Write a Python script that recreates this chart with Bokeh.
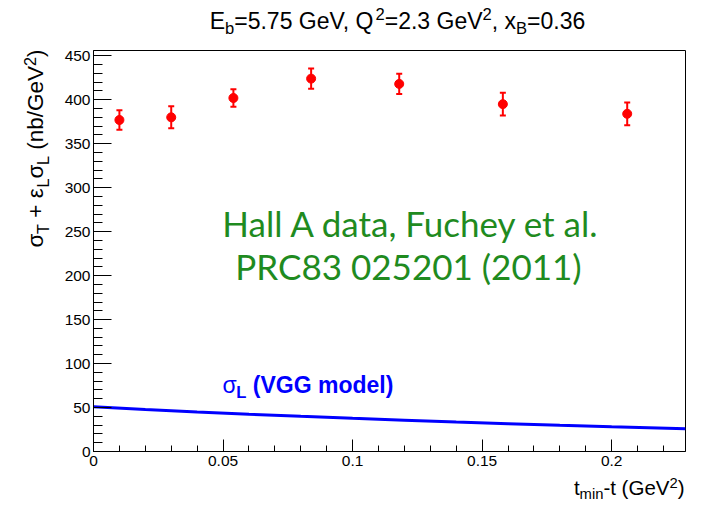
import math
from bokeh.plotting import figure
from bokeh.layouts import row, column
from bokeh.models import (Range1d, SingleIntervalTicker, CustomJSTickFormatter,
                          Label, ColumnDataSource)
from bokeh.embed import file_html
from bokeh.resources import INLINE

# ---------------- data ----------------
t_data = [0.010, 0.030, 0.054, 0.084, 0.118, 0.158, 0.206]
sigma_data = [377, 380, 402, 424, 418, 395, 384]
sigma_err = [11, 12.5, 10, 11.5, 11.5, 13, 13]

t_model = [0.0, 0.02, 0.04, 0.06, 0.08, 0.10, 0.12, 0.14, 0.16, 0.18, 0.20, 0.2285]
sigmaL_model = [50.8, 47.8, 45.0, 42.4, 40.0, 37.7, 35.6, 33.5, 31.6, 29.8, 28.1, 25.8]

x_range = (0.0, 0.2285)
y_range = (0.0, 456.0)

title_pieces = [("E", "n"), ("b", "sub"), ("=5.75 GeV, Q", "n"), ("2", "sup"),
                ("=2.3 GeV", "n"), ("2", "sup"), (", x", "n"), ("B", "sub"), ("=0.36", "n")]
ylabel_pieces = [("σ", "n"), ("T", "sub"), ("\u00a0+\u00a0ε", "n"), ("L", "sub"), ("σ", "n"),
                 ("L", "sub"), ("\u00a0(nb/GeV", "n"), ("2", "sup"), (")", "n")]
xlabel_pieces = [("t", "n"), ("min", "sub"), ("-t (GeV", "n"), ("2", "sup"), (")", "n")]
model_pieces = [("σ", "n"), ("L", "sub"), ("\u00a0(VGG model)", "n")]
note_lines = ["Hall A data, Fuchey et al.", "PRC83 025201 (2011)"]

# ---------------- layout (page pixels) ----------------
W, H = 702, 505
LW = 56            # width of the left strip holding the y label
TOPH = 46          # height of the strip holding the title
MAIN_W = W - LW
BL, BR, BT, BB = 93 - LW, 17, 4, 22
MAIN_H = BT + 401 + BB
BOT_H = H - TOPH - MAIN_H
FONT = "Liberation Sans"
KBASE = {"Liberation Sans": 0.347, "Lato": 0.387}


def text_fig(w, h):
    f = figure(width=w, height=h, x_range=Range1d(0, 1), y_range=Range1d(0, 1),
               output_backend="svg", toolbar_location=None, title=None,
               x_axis_location=None, y_axis_location=None,
               min_border_left=0, min_border_right=0, min_border_top=0, min_border_bottom=0)
    f.outline_line_color = None
    f.xgrid.visible = False
    f.ygrid.visible = False
    f.background_fill_color = "white"
    f.border_fill_color = "white"
    return f


left_fig = text_fig(LW, H)
top_fig = text_fig(MAIN_W, TOPH)
bot_fig = text_fig(MAIN_W, BOT_H)

p = figure(width=MAIN_W, height=MAIN_H, x_range=Range1d(*x_range), y_range=Range1d(*y_range),
           output_backend="svg", toolbar_location=None, title=None,
           min_border_left=BL, min_border_right=BR, min_border_top=BT, min_border_bottom=BB)
p.background_fill_color = "white"
p.border_fill_color = "white"
p.outline_line_color = "black"
p.outline_line_width = 1
p.xgrid.visible = False
p.ygrid.visible = False

xa = p.xaxis[0]
ya = p.yaxis[0]
xa.ticker = SingleIntervalTicker(interval=0.05, num_minor_ticks=5)
ya.ticker = SingleIntervalTicker(interval=50, num_minor_ticks=5)
xa.formatter = CustomJSTickFormatter(code="return String(Math.round(tick*1000)/1000);")
for ax in (xa, ya):
    ax.axis_line_color = "black"
    ax.axis_line_width = 1
    ax.major_tick_line_color = "black"
    ax.minor_tick_line_color = "black"
    ax.major_tick_out = 0
    ax.minor_tick_out = 0
    ax.major_label_text_font = FONT
    ax.major_label_text_font_size = "15.5px"
    ax.major_label_text_color = "black"
xa.major_tick_in = 12
xa.minor_tick_in = 6
xa.major_label_standoff = 4
ya.major_tick_in = 18
ya.minor_tick_in = 9
ya.major_label_standoff = 3

# ---------------- glyphs ----------------
src = ColumnDataSource(dict(
    t=t_data, s=sigma_data,
    lo=[s - e for s, e in zip(sigma_data, sigma_err)],
    hi=[s + e for s, e in zip(sigma_data, sigma_err)]))
p.segment(x0="t", y0="lo", x1="t", y1="hi", source=src, line_color="red", line_width=2)
p.scatter(x="t", y="hi", marker="dash", size=6, line_color="red", line_width=2, source=src)
p.scatter(x="t", y="lo", marker="dash", size=6, line_color="red", line_width=2, source=src)
p.scatter(x="t", y="s", marker="circle", size=9, fill_color="red", line_color="red", source=src)

p.line(t_model, sigmaL_model, line_color="blue", line_width=3)

# ---------------- rich text helper ----------------
REG = {' ': 278, '\u00a0': 278, '(': 333, ')': 333, '+': 584, ',': 278, '-': 333, '.': 278,
       '/': 278, '=': 584, 'A': 667, 'B': 667, 'E': 667, 'G': 778, 'L': 556, 'Q': 778,
       'T': 611, 'V': 667, 'b': 556, 'd': 556, 'e': 556, 'i': 222, 'l': 222, 'm': 833,
       'n': 556, 'o': 556, 't': 278, 'x': 500, 'σ': 600, 'ε': 480}
BOLD = {' ': 278, '\u00a0': 278, '(': 333, ')': 333, 'V': 667, 'G': 778, 'm': 889,
        'o': 611, 'd': 611, 'e': 556, 'l': 278, 'L': 611, 'σ': 620}
SCR = 0.72


def tw(text, bold):
    tab = BOLD if bold else REG
    return sum(tab.get(c, 556) for c in text) / 1000.0


def rich(fig, origin, pieces, apx, apy, size, color="black", align="left",
         vertical=False, bold_main=False, sup=0.36):
    """Lay out text pieces (normal / sub / sup); apx, apy = page pixels of the baseline."""
    ox, oy = origin
    ws = []
    for text, kind in pieces:
        bold = bold_main and text != "σ"
        fs = size * SCR if kind != "n" else size
        ws.append(tw(text, bold) * fs)
    total = sum(ws)
    cum = {"left": 0.0, "right": -total, "center": -total / 2}[align]
    for (text, kind), w in zip(pieces, ws):
        bold = bold_main and text != "σ"
        fs = size * SCR if kind != "n" else size
        shift = {"n": 0.0, "sub": -0.24 * size, "sup": sup * size}[kind]
        corr = KBASE[FONT] * fs
        if not vertical:
            cx, cy, ang = apx + cum - ox, apy - shift - corr - oy, 0.0
        else:
            cx, cy, ang = apx - shift - corr - ox, apy - cum - oy, math.pi / 2
        fig.add_layout(Label(x=cx, y=cy, x_units="canvas", y_units="canvas", text=text,
                             text_font=FONT, text_font_size=f"{fs:.1f}px",
                             text_font_style="bold" if bold else "normal",
                             text_color=color, text_align="left",
                             text_baseline="alphabetic", angle=ang))
        cum += w


rich(top_fig, (LW, 0), title_pieces, 397, 28, 23, align="center")
rich(left_fig, (0, 0), ylabel_pieces, 43, 49, 22.5, align="right", vertical=True)
rich(bot_fig, (LW, TOPH + MAIN_H), xlabel_pieces, 684, 494, 20.5, align="right", sup=0.33)
rich(p, (LW, TOPH), model_pieces, 222, 392, 23, color="blue", bold_main=True)

GREEN = "#1f8b1f"
GS = 35
for line, (gx, gy) in zip(note_lines, [(411, 236), (408, 279)]):
    p.add_layout(Label(x=gx - LW, y=gy - TOPH - KBASE["Lato"] * GS, x_units="canvas",
                       y_units="canvas", text=line, text_font="Lato",
                       text_font_size=f"{GS}px", text_color=GREEN,
                       text_align="center", text_baseline="alphabetic"))

layout = row(left_fig, column(top_fig, p, bot_fig, spacing=0), spacing=0)
open("out.html", "w").write(file_html(layout, INLINE))
